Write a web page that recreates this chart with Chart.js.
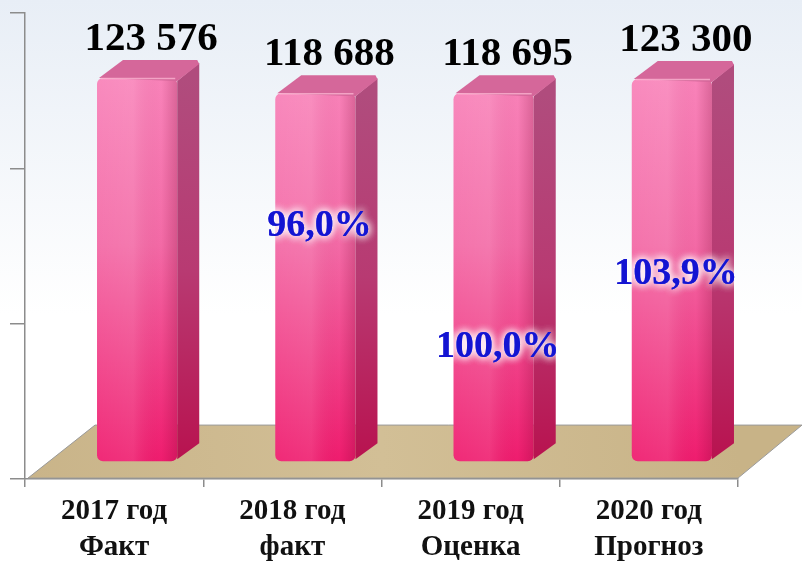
<!DOCTYPE html>
<html>
<head>
<meta charset="utf-8">
<script src="https://cdn.jsdelivr.net/npm/chart.js@4.4.0/dist/chart.umd.min.js"></script>
<style>
  html, body { margin: 0; padding: 0; overflow: hidden; background: #fff; }
  .wrap { width: 802px; height: 571px; }
</style>
</head>
<body>
<div class="wrap"><canvas id="chart"></canvas></div>
<script>
const categories = [['2017 год', 'Факт'], ['2018 год', 'факт'], ['2019 год', 'Оценка'], ['2020 год', 'Прогноз']];
const values = [123576, 118688, 118695, 123300];
const percents = [null, 96.0, 100.0, 103.9];
const yTicks = [0, 50000, 100000, 150000];

// 3D look: bars stand back from the axis plane, and have a depth of their own
const DEPTH = { dx: 23, dy: -17 };
const SIDE = { dx: 22, dy: -18 };
const FLOOR = { dx: 70, dy: -54 };
const pctLevel = [0, 0.64, 0.31, 0.49];

const SERIF = '"Liberation Serif", "Times New Roman", serif';
const fmt = v => String(v).replace(/\B(?=(\d{3})+(?!\d))/g, ' ');
const fmtPct = v => v.toFixed(1).replace('.', ',') + '%';

const backgroundPlugin = {
  id: 'bg',
  beforeDraw(chart) {
    const { ctx, width, height } = chart;
    const g = ctx.createLinearGradient(0, 0, 0, height);
    g.addColorStop(0, '#e8eef6');
    g.addColorStop(0.55, '#ffffff');
    g.addColorStop(1, '#ffffff');
    ctx.save();
    ctx.fillStyle = g;
    ctx.fillRect(0, 0, width, height);
    ctx.restore();
  }
};

const floorPlugin = {
  id: 'floor',
  beforeDatasetsDraw(chart) {
    const { ctx, chartArea: a } = chart;
    ctx.save();
    ctx.beginPath();
    ctx.moveTo(a.left + 3, a.bottom - 1);
    ctx.lineTo(a.left + FLOOR.dx, a.bottom + FLOOR.dy);
    ctx.lineTo(a.right + FLOOR.dx - 6, a.bottom + FLOOR.dy);
    ctx.lineTo(a.right, a.bottom - 1);
    ctx.closePath();
    const g = ctx.createLinearGradient(a.left, a.bottom, a.right, a.bottom + FLOOR.dy);
    g.addColorStop(0, '#c9b489');
    g.addColorStop(0.5, '#d2bf96');
    g.addColorStop(1, '#c8b387');
    ctx.fillStyle = g;
    ctx.fill();
    ctx.strokeStyle = '#9a9a9a';
    ctx.lineWidth = 1;
    ctx.stroke();
    ctx.restore();

    // push the bars back onto the floor
    ctx.save();
    ctx.translate(DEPTH.dx, DEPTH.dy);
  },
  afterDatasetsDraw(chart) {
    const { ctx } = chart;
    const meta = chart.getDatasetMeta(0);
    meta.data.forEach(bar => {
      const x1 = bar.x - bar.width / 2;
      const x2 = bar.x + bar.width / 2;
      const top = bar.y;
      const base = bar.base;

      // shading across the front face
      const hg = ctx.createLinearGradient(x1, 0, x2, 0);
      hg.addColorStop(0, 'rgba(255,255,255,0.06)');
      hg.addColorStop(0.45, 'rgba(255,255,255,0.10)');
      hg.addColorStop(0.8, 'rgba(120,0,40,0.0)');
      hg.addColorStop(1, 'rgba(110,0,40,0.22)');
      ctx.fillStyle = hg;
      ctx.beginPath();
      ctx.roundRect(x1, top, bar.width, base - top, 6);
      ctx.fill();

      // right side
      const sg = ctx.createLinearGradient(0, top, 0, base);
      sg.addColorStop(0, '#b04c7d');
      sg.addColorStop(0.5, '#b83a72');
      sg.addColorStop(1, '#b8124f');
      ctx.fillStyle = sg;
      ctx.beginPath();
      ctx.moveTo(x2, top + 3);
      ctx.lineTo(x2 + SIDE.dx, top + SIDE.dy + 3);
      ctx.lineTo(x2 + SIDE.dx, base + SIDE.dy);
      ctx.lineTo(x2, base - 2);
      ctx.closePath();
      ctx.fill();

      // top
      ctx.fillStyle = '#d5679a';
      ctx.beginPath();
      ctx.moveTo(x1 + 2, top);
      ctx.lineTo(x1 + SIDE.dx + 4, top + SIDE.dy);
      ctx.lineTo(x2 + SIDE.dx - 2, top + SIDE.dy);
      ctx.lineTo(x2 + SIDE.dx, top + SIDE.dy + 4);
      ctx.lineTo(x2, top + 3);
      ctx.closePath();
      ctx.fill();
      ctx.strokeStyle = 'rgba(255,190,215,0.7)';
      ctx.lineWidth = 1.5;
      ctx.beginPath();
      ctx.moveTo(x1 + 4, top + 0.5);
      ctx.lineTo(x2 - 2, top + 0.5);
      ctx.stroke();
    });
    ctx.restore();

    // value labels
    ctx.save();
    ctx.textAlign = 'center';
    ctx.textBaseline = 'alphabetic';
    ctx.font = 'bold 41px ' + SERIF;
    ctx.fillStyle = '#000';
    meta.data.forEach((bar, i) => {
      ctx.fillText(fmt(values[i]), bar.x + DEPTH.dx + 14, bar.y + DEPTH.dy - 28);
    });

    // growth labels
    ctx.font = 'bold 38px ' + SERIF;
    ctx.textBaseline = 'middle';
    meta.data.forEach((bar, i) => {
      if (percents[i] == null) return;
      const base = bar.base + DEPTH.dy;
      const y = base - pctLevel[i] * (bar.base - bar.y);
      const x = bar.x + DEPTH.dx + 4;
      ctx.shadowColor = 'rgba(255,255,255,0.95)';
      ctx.shadowBlur = 9;
      ctx.fillStyle = '#1414d2';
      for (let k = 0; k < 3; k++) ctx.fillText(fmtPct(percents[i]), x, y);
    });
    ctx.restore();
  }
};

new Chart(document.getElementById('chart'), {
  type: 'bar',
  data: {
    labels: categories,
    datasets: [{
      data: values,
      backgroundColor: (c) => {
        const { chart } = c;
        const a = chart.chartArea;
        if (!a) return '#f25a9b';
        const g = chart.ctx.createLinearGradient(0, a.top + 70, 0, a.bottom);
        g.addColorStop(0, '#f985bb');
        g.addColorStop(0.45, '#f36aa6');
        g.addColorStop(1, '#ef1c6e');
        return g;
      },
      borderWidth: 0,
      borderRadius: 6,
      borderSkipped: false,
      barPercentage: 0.45,
      categoryPercentage: 1,
      clip: false
    }]
  },
  options: {
    responsive: true,
    maintainAspectRatio: false,
    devicePixelRatio: 1,
    animation: false,
    layout: { padding: { left: 10, right: 64, top: 13, bottom: 0 } },
    plugins: {
      legend: { display: false },
      tooltip: { enabled: false }
    },
    scales: {
      x: {
        offset: true,
        grid: { offset: true, drawOnChartArea: false, drawTicks: true, tickLength: 8, color: '#8c8c8c', lineWidth: 1.5 },
        border: { display: true, color: '#8c8c8c', width: 1.5 },
        ticks: {
          color: '#111',
          padding: 6,
          maxRotation: 0,
          autoSkip: false,
          font: { family: SERIF, size: 29, weight: 'bold', lineHeight: 1.24 }
        }
      },
      y: {
        min: 0,
        max: 150000,
        afterBuildTicks: scale => { scale.ticks = yTicks.map(v => ({ value: v })); },
        grid: { drawOnChartArea: false, drawTicks: true, tickLength: 15, color: '#8c8c8c', lineWidth: 1.5 },
        border: { display: true, color: '#8c8c8c', width: 1.5 },
        ticks: { display: false }
      }
    }
  },
  plugins: [backgroundPlugin, floorPlugin]
});
</script>
</body>
</html>
